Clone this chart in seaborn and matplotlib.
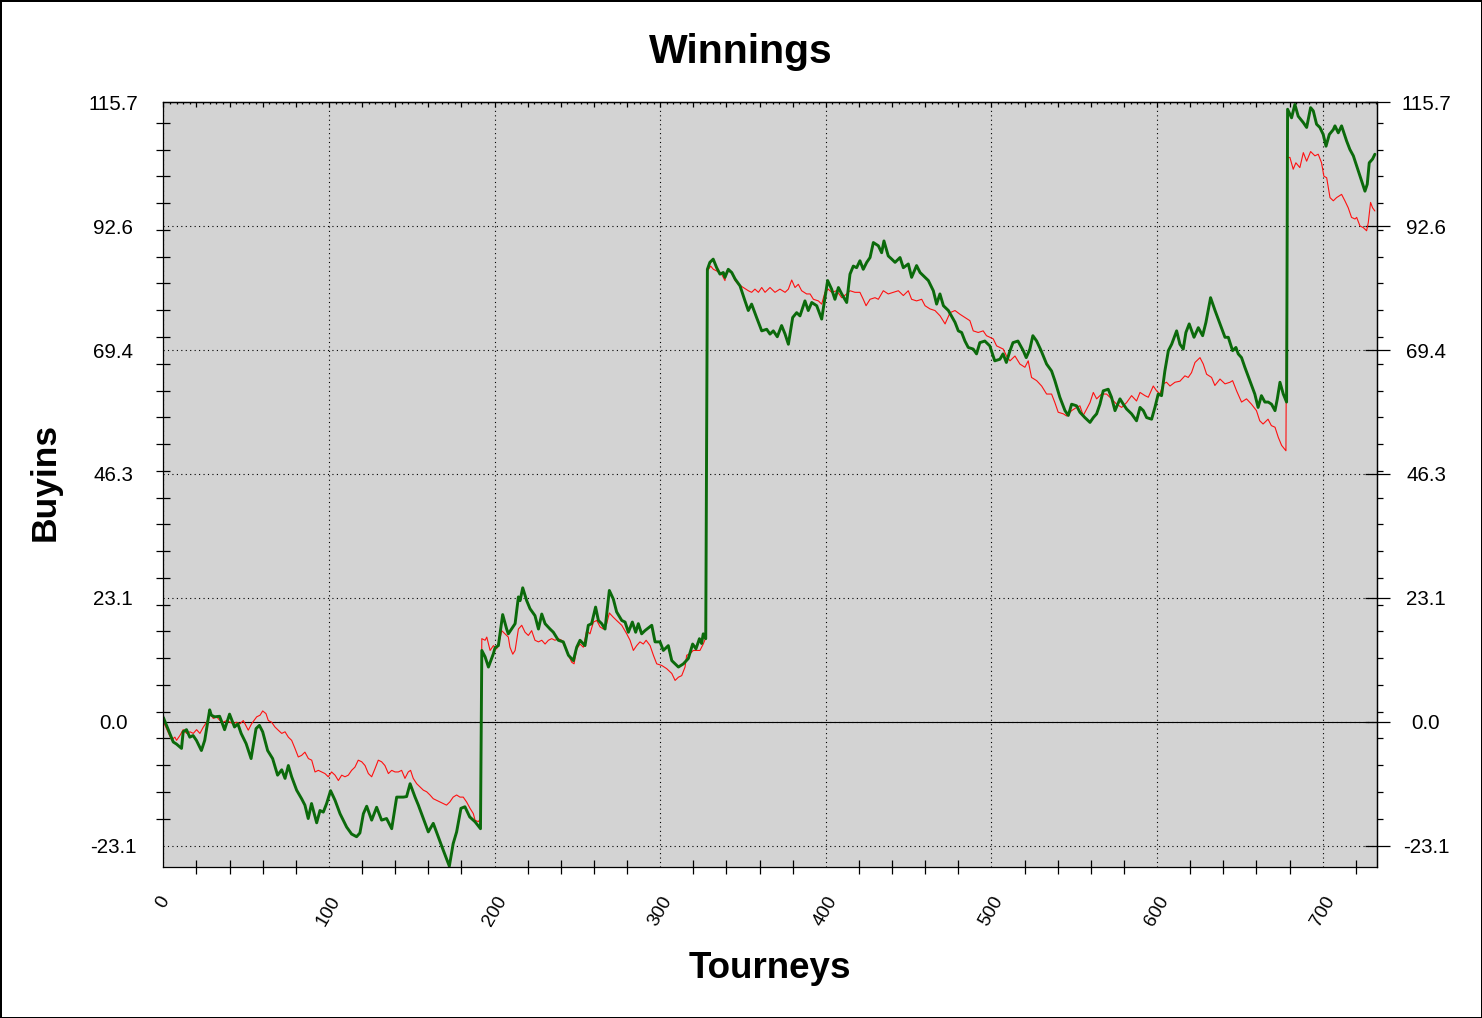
import numpy as np
import pandas as pd
import matplotlib
matplotlib.use("Agg")
import matplotlib.pyplot as plt
from matplotlib.ticker import FixedLocator, MultipleLocator
import seaborn as sns

# --- data (tourney number, buyins) ---
green_x = [0, 6, 8, 11, 12, 14, 16, 18, 20, 23, 25, 26, 28, 29, 31, 34, 35, 37, 40, 43,
           45, 47, 50, 53, 56, 58, 60, 63, 66, 69, 71.5, 73.5, 75.5, 77.5, 80.5, 83.5, 85.5, 87.5, 89.5, 92.6,
           94.6, 96.6, 98.6, 101, 103.7, 106.7, 110.7, 113.7, 116.7, 118.7, 120.8, 122.8, 125.8, 128.8, 131.8, 134.8, 137.9, 140.9, 144.9, 146.9,
           149, 152, 154, 157, 160, 163, 166, 169, 172.7, 175, 177.1, 179.7, 182.1, 185, 188.2, 191.5,
           192.3, 194.3, 196.3, 199.3, 200.3, 202.3, 204.9, 207.3, 208.3, 212.4, 214.4, 215.4, 217, 219.4, 221.4, 224.4, 226.5, 228.5, 230.5, 233.5,
           235.5, 238.5, 241.5, 244.6, 247.6, 249.6, 251.6, 254.6, 256.6, 258.6, 261, 262.7, 264.7, 266.7, 269.3, 271.7, 273.7, 276.8, 278.8, 280.8,
           283.2, 285.2, 286.8, 288.8, 290.8, 294.9, 296.9, 299.9, 301.9, 304.9, 307, 309, 311, 314, 317, 319.6, 321.6, 323.7, 325, 326, 327.5,
           328.5, 330, 332, 334.1, 336.1, 338.1, 339.1, 341.1, 343.2, 345.2, 348.2, 351.2, 353.2, 355.2, 358.2, 361.3, 364.3, 366.3, 368.3, 370.7,
           373.3, 375.4, 377.4, 380, 382.4, 384.4, 387.4, 389.4, 391.5, 394.5, 397.5, 399.5, 401.1, 403.5, 405.5, 407.6, 409.6, 412.6, 414.6, 416.6,
           418.6, 420.6, 422.6, 424.7, 426.7, 428.7, 431.7, 433.7, 435.1, 437.7, 439.8, 441.8, 444.8, 446.8, 449.8, 451.8, 454.8, 456.9, 458.9, 461.9,
           464.9, 466.9, 468.9, 471, 474, 478, 480, 482, 484, 486, 489, 491, 493, 496, 499, 502, 505.1, 507, 509, 511.2,
           513, 516, 519.2, 521, 523.2, 525, 527.3, 530, 533.3, 536.3, 538.3, 541.3, 544.4, 546.4, 548.4, 551.4, 553.4, 556.4, 559.5, 561.5,
           563.5, 565.5, 567.5, 570.5, 572.5, 574.6, 577.6, 579.6, 581.6, 584.6, 587.6, 589.7, 591.7, 593.7, 596.7, 598.7, 600.7, 602.7, 604.7, 606.8,
           608.8, 611.8, 613.8, 615.8, 617.4, 619.4, 620.8, 622.3, 624.9, 627.5, 629.5, 632.3, 635, 638, 641, 643, 645.6, 647.6, 649, 651,
           653, 656, 659, 661, 663, 665.1, 667.1, 669.1, 671.2, 672.6, 674.2, 676.2, 678.2,
           678.8, 681.2, 683.2, 685.2, 688.3, 690.3, 692.7, 694.3, 696.3, 698.3, 700.3, 702, 704, 706.4, 707.4, 709.4, 711.4, 714.4, 716.4, 718.5,
           721.5, 723.5, 725.5, 726.9, 728.1, 730.1, 731.5]
green_y = [0.8, -3.8, -4.2, -5.0, -1.9, -1.5, -2.9, -2.6, -3.5, -5.4, -3.5, -1.6, 2.2, 1.2, 0.9, 1.0, 0.2, -1.5, 1.4, -1.0,
           -0.4, -2.2, -4.1, -6.9, -1.3, -0.7, -1.9, -5.4, -6.9, -10.0, -9.0, -10.6, -8.2, -10.3, -12.8, -14.4, -15.6, -18.1, -15.3, -18.9,
           -16.6, -16.9, -15.3, -12.9, -14.7, -17.2, -19.7, -21.0, -21.5, -20.8, -17.2, -15.8, -18.4, -16.0, -18.4, -18.1, -20.0, -14.1, -14.1, -14.0,
           -11.6, -14.1, -15.6, -18.1, -20.6, -19.0, -21.5, -24.0, -27.0, -22.8, -20.6, -16.2, -15.9, -17.8, -18.7, -20.0,
           13.3, 12.1, 10.2, 12.7, 13.8, 14.2, 20.0, 17.3, 16.4, 18.3, 23.3, 22.6, 25.0, 22.6, 21.1, 19.8, 17.3, 20.1, 18.3, 17.3,
           16.7, 15.2, 14.9, 12.4, 11.4, 13.9, 15.2, 14.2, 18.0, 18.3, 21.4, 18.9, 18.3, 17.3, 24.5, 22.9, 20.5, 18.9, 18.6, 16.7,
           18.6, 16.7, 18.3, 16.4, 17.0, 18.0, 14.9, 14.9, 13.3, 14.2, 11.4, 10.8, 10.2, 10.8, 11.8, 14.5, 13.6, 15.5, 14.6, 16.4, 15.5,
           84.5, 85.8, 86.4, 84.8, 83.6, 83.9, 83.0, 84.5, 83.9, 82.7, 81.4, 78.6, 76.8, 78.0, 75.5, 73.0, 73.3, 72.4, 73.0, 71.9,
           74.0, 72.4, 70.5, 75.5, 76.4, 75.8, 78.6, 76.8, 78.3, 77.7, 75.2, 79.2, 82.4, 80.8, 78.9, 81.1, 79.9, 78.3, 83.6, 85.1,
           84.8, 86.1, 84.5, 85.8, 86.7, 89.5, 88.9, 87.6, 89.8, 87.0, 86.4, 85.8, 86.7, 84.8, 85.5, 83.0, 85.2, 83.9, 83.3, 82.4,
           80.5, 78.0, 79.9, 77.7, 76.8, 74.6, 73.0, 72.7, 71.1, 69.9, 69.6, 68.7, 70.8, 71.1, 70.2, 67.4, 67.7, 68.7, 67.1, 69.3,
           70.8, 71.1, 69.3, 68.0, 69.6, 72.1, 71.1, 69.3, 66.8, 65.5, 63.7, 60.6, 58.1, 57.2, 59.3, 59.0, 57.8, 56.8, 55.9, 56.8,
           57.5, 59.3, 61.8, 62.1, 60.6, 58.1, 60.3, 59.3, 58.4, 57.5, 56.2, 58.7, 58.1, 56.8, 56.5, 58.7, 61.2, 60.9, 65.5, 69.3,
           70.5, 73.0, 70.5, 69.6, 72.7, 74.3, 73.1, 71.8, 73.6, 72.1, 74.6, 79.2, 76.8, 74.3, 71.8, 71.8, 69.3, 69.9, 68.7, 68.0,
           66.2, 63.7, 61.2, 58.7, 60.9, 59.7, 59.7, 59.3, 58.1, 60.3, 63.4, 61.2, 59.7,
           114.4, 112.8, 115.3, 113.1, 111.9, 111.0, 114.7, 114.1, 111.6, 111.0, 109.7, 107.5, 109.7, 110.6, 111.3, 110.0, 111.3, 108.5, 106.9, 105.7,
           102.9, 101.0, 99.1, 100.4, 104.4, 105.1, 106.0]

red_x = [0, 5, 7, 8, 10, 12, 14.1, 16.1, 18.1, 20.1, 22.1, 24.2, 26.2, 28.2, 30.2, 32.2, 34.2, 36.2, 38.2, 40.3,
         42.3, 44.3, 46.3, 48.3, 49.3, 51.3, 53.3, 56.4, 58.4, 60, 62, 63.4, 65.4, 67.4, 69.4, 71.5, 73.5, 75.5, 77.5, 79.5,
         81.5, 83.5, 85.5, 87.6, 89.6, 91.6, 93.6, 95.6, 97.6, 99.6, 101.6, 103.7, 105.7, 107.7, 109.7, 111.7, 113.7, 115.7, 117.7, 119.8,
         121.8, 123.8, 125.8, 127.8, 129.8, 131.8, 133.8, 135.9, 137.9, 139.9, 141.9, 143.9, 145.9, 147.9, 149.3, 150.9, 153, 155, 157, 159,
         161, 163, 165, 167, 169, 171, 173, 175, 177.1, 179.1, 181.1, 183.1, 185.2, 187.2, 188.2, 190.2, 191.5,
         192.3, 194.3, 195.3, 197.3, 199.3, 201.3, 203.3, 204.3, 206.3, 208.3, 209.3, 211, 212.4, 214.4, 216.4, 218.4, 220.4, 222.4, 224.4, 226.5,
         228.5, 230.5, 232.5, 234.5, 236.5, 238.5, 240.5, 242.6, 244.6, 246.6, 248, 249.6, 251.6, 253.6, 255.6, 257.6, 259.7, 261.7, 263.7, 265.7,
         267.7, 269.3, 271.7, 273.7, 276.8, 279.8, 281.8, 283.8, 285.8, 287.8, 289.8, 291.5, 293.9, 295.9, 297.9, 300.9, 303.9, 307, 309, 311,
         313, 315, 316, 318, 320, 322, 324, 326, 327.3,
         328.5, 330.5, 332.1, 334.1, 337.1, 339.1, 340.1, 343.2, 345.2, 347.2, 350.2, 353.2, 355.2, 357.2, 359.3, 361.3, 363.3, 366.3, 369.3, 372.3,
         375.4, 377.4, 379.4, 381.4, 383.4, 385.4, 388.4, 390.5, 392.5, 395.5, 397.5, 399.5, 401.5, 403.5, 406.5, 409.6, 412.6, 414.6, 417.6, 420.6,
         422.6, 424.3, 426.7, 429.7, 431.7, 434.7, 437.7, 440.8, 443.8, 446.8, 449.8, 451.8, 454.8, 457.9, 459.9, 462.9, 465.9, 469, 472, 475,
         478, 481, 484, 487, 489, 492, 495, 497, 499, 501.1, 503.1, 505.1, 507.1, 509.1, 511.2, 514.2, 517.2, 520.2, 522.2, 524.2,
         527.3, 530.3, 533.3, 536.3, 538.3, 540.3, 543.4, 545.4, 548.4, 551.4, 553.4, 555.4, 557.5, 559.5, 561.5, 563.5, 566.5, 569.5, 572.5, 575.6,
         578.6, 581.6, 584.6, 587.6, 589.7, 592.7, 594.7, 597.7, 599.7, 601.7, 603.7, 605.7, 607.8, 610.8, 613.8, 616.8, 618.8, 620.8, 622.9, 625.9,
         627.9, 629.9, 632.9, 634.9, 638, 641, 644, 645.6, 648, 651, 654, 657, 660, 662, 664, 667, 669, 671.2, 673.2, 675.2, 677.8,
         678.6, 680.2, 682.2, 683.8, 686.2, 688.3, 690.3, 692.7, 695.3, 697.3, 699.3, 700.7, 702.4, 704.4, 706.4, 708.4, 711.4, 713.4, 715.4, 717.4,
         719.5, 720.5, 722.5, 724.5, 726.5, 727.5, 728.9, 730.1, 731.5]
red_y = [0.0, -3.4, -2.9, -3.5, -2.6, -1.5, -2.2, -1.9, -2.2, -1.5, -2.2, -1.0, -0.1, 1.5, 0.6, 0.9, 0.2, -0.1, 0.2, -0.1,
         -0.4, -0.1, -0.4, 0.2, -0.4, -1.6, -0.4, 0.9, 1.2, 2.0, 1.5, 0.2, -0.1, -1.0, -1.6, -2.2, -1.9, -2.9, -3.5, -5.0,
         -6.6, -6.3, -5.7, -6.9, -7.2, -9.4, -9.1, -9.4, -9.7, -10.3, -9.4, -10.0, -11.0, -10.0, -10.3, -10.0, -9.1, -8.5, -7.2, -7.5,
         -8.2, -9.7, -10.3, -8.8, -7.2, -7.5, -8.2, -9.7, -9.1, -9.4, -9.4, -9.1, -10.6, -9.4, -9.1, -10.6, -11.6, -12.2, -12.8, -13.1,
         -13.7, -14.4, -14.7, -15.0, -15.3, -15.6, -15.0, -14.1, -13.7, -14.1, -14.1, -15.0, -16.2, -17.2, -18.4, -18.7, -18.1,
         15.5, 15.2, 15.8, 13.3, 14.2, 13.6, 15.5, 17.0, 16.4, 15.8, 13.9, 12.6, 13.3, 17.3, 18.0, 16.7, 16.1, 17.0, 15.2, 14.9,
         15.2, 14.5, 15.2, 15.5, 15.2, 15.5, 15.2, 13.9, 12.4, 11.1, 10.8, 13.6, 14.5, 13.9, 17.0, 16.4, 18.6, 18.9, 17.7, 17.3,
         18.3, 20.3, 19.5, 18.9, 18.0, 16.4, 15.2, 13.3, 14.2, 14.9, 14.5, 15.2, 14.2, 12.4, 10.8, 10.5, 9.9, 9.0, 7.7, 8.3,
         8.6, 10.2, 12.4, 12.7, 13.3, 13.3, 13.3, 14.5, 15.5,
         84.2, 85.1, 84.5, 84.2, 83.6, 82.4, 84.2, 83.9, 82.4, 81.7, 81.1, 80.5, 80.2, 80.8, 80.2, 81.1, 80.2, 81.1, 80.2, 80.8,
         80.2, 80.8, 82.5, 81.1, 81.7, 80.5, 79.9, 79.9, 78.9, 78.6, 78.0, 80.2, 80.8, 80.2, 80.5, 79.2, 79.9, 80.5, 80.2, 80.2,
         78.9, 77.7, 78.9, 79.2, 78.9, 80.5, 79.9, 80.2, 80.5, 79.6, 80.5, 78.9, 78.6, 78.9, 77.7, 77.1, 76.8, 75.8, 74.3, 76.4,
         76.8, 76.1, 75.5, 74.9, 73.0, 72.7, 73.0, 72.1, 71.8, 71.5, 70.2, 69.9, 69.6, 68.3, 67.4, 68.3, 66.8, 66.2, 67.4, 64.3,
         63.7, 62.7, 61.2, 61.2, 59.6, 57.8, 57.5, 57.1, 58.1, 58.7, 59.0, 57.2, 58.4, 59.6, 61.5, 60.3, 61.2, 61.2, 60.3, 59.3,
         58.7, 59.6, 60.9, 59.9, 61.5, 60.9, 60.6, 62.7, 61.8, 61.2, 63.1, 63.4, 62.7, 63.4, 63.6, 64.6, 64.3, 65.2, 67.1, 68.0,
         66.8, 64.9, 64.3, 62.8, 64.0, 63.1, 63.4, 63.7, 61.8, 59.7, 60.3, 59.3, 58.1, 56.2, 55.6, 56.5, 55.3, 55.0, 53.1, 51.6, 50.6,
         105.4, 105.4, 103.2, 104.4, 103.5, 106.3, 104.7, 106.5, 105.7, 106.0, 104.4, 101.9, 101.6, 97.9, 97.3, 97.9, 98.5, 97.3, 96.0, 94.2,
         93.9, 94.2, 92.6, 92.3, 91.7, 93.2, 97.0, 96.0, 95.4]

y_ticks = [-23.14, 0.0, 23.14, 46.28, 69.42, 92.56, 115.7]
y_tick_labels = ["-23.1", "0.0", "23.1", "46.3", "69.4", "92.6", "115.7"]
x_ticks = [0, 100, 200, 300, 400, 500, 600, 700]
x_tick_labels = ["0", "100", "200", "300", "400", "500", "600", "700"]

df = pd.concat([
    pd.DataFrame({"tourney": red_x, "buyins": red_y, "series": "red"}),
    pd.DataFrame({"tourney": green_x, "buyins": green_y, "series": "green"}),
], ignore_index=True)

sns.set_style("white")
plt.rcParams["font.family"] = ["Liberation Sans", "DejaVu Sans"]
plt.rcParams["text.color"] = "black"
plt.rcParams["axes.labelcolor"] = "black"
plt.rcParams["xtick.color"] = "black"
plt.rcParams["ytick.color"] = "black"

W, H = 1482, 1018
fig = plt.figure(figsize=(W / 100, H / 100), dpi=100, facecolor="white",
                 edgecolor="black", linewidth=2)
left, right, top, bottom = 163.3, 1376.7, 102.3, 866.7
ax = fig.add_axes([left / W, 1 - bottom / H, (right - left) / W, (bottom - top) / H])
ax.set_facecolor("#D3D3D3")

ax.grid(True, which="major", color="black", linestyle=(0, (1, 3)), linewidth=0.8)
ax.axhline(0, color="black", linewidth=0.8, zorder=1.5)

sns.lineplot(data=df, x="tourney", y="buyins", hue="series", size="series",
             hue_order=["red", "green"], palette={"red": "#FF1010", "green": "#0B6A0B"},
             sizes={"red": 0.8, "green": 2.1}, estimator=None, sort=False,
             legend=False, ax=ax)

ax.set_xlim(0, 732.6)
ax.set_ylim(-27.1, 115.7)

for s in ax.spines.values():
    s.set_color("black")
    s.set_linewidth(0.9)

y_minor = [-23.14 + 5 * k for k in range(1, 28)]

ax.set_xticks(x_ticks, x_tick_labels)
ax.xaxis.set_minor_locator(MultipleLocator(20))
ax.set_yticks(y_ticks, y_tick_labels)
ax.yaxis.set_minor_locator(FixedLocator(y_minor))

ax.tick_params(which="major", direction="inout", length=18, width=0.9, color="black",
               top=False, right=False)
ax.tick_params(which="minor", direction="inout", length=9.5, width=0.9, color="black",
               top=False, right=False, left=True, bottom=True)
ax.tick_params(axis="x", which="major", labelsize=13.5, pad=10, labelrotation=60)
ax.tick_params(axis="y", which="major", labelsize=14.8, pad=27)
for lbl in ax.get_yticklabels():
    lbl.set_ha("center")

# right-hand axis with the same ticks
sec = ax.secondary_yaxis("right")
sec.set_ticks(y_ticks, labels=y_tick_labels)
sec.yaxis.set_minor_locator(FixedLocator(y_minor))
sec.tick_params(which="major", direction="inout", length=18, width=0.9, labelsize=14.8,
                pad=26.5, colors="black")
sec.tick_params(which="minor", direction="out", length=4.5, width=0.9, colors="black")
sec.spines["right"].set_linewidth(0.9)
sec.spines["right"].set_color("black")
for lbl in sec.get_yticklabels():
    lbl.set_ha("center")

# small ticks along the top edge
topx = ax.secondary_xaxis("top")
topx.set_ticks(np.arange(0, 733, 20))
topx.xaxis.set_minor_locator(MultipleLocator(4))
topx.tick_params(which="major", direction="in", length=3.6, width=0.9, labeltop=False, colors="black")
topx.tick_params(which="minor", direction="in", length=1.2, width=0.9, colors="black")
topx.spines["top"].set_linewidth(0.9)
topx.spines["top"].set_color("black")

fig.text(0.5, 1 - 63 / H, "Winnings", ha="center", va="baseline",
         fontsize=29.5, fontweight="bold")

ax.set_ylabel("Buyins", fontsize=25.5, fontweight="bold")
ax.yaxis.label.set_va("center")
ax.yaxis.set_label_coords((45 - left) / (right - left), (bottom - 482) / (bottom - top))

ax.set_xlabel("Tourneys", fontsize=26.5, fontweight="bold")
ax.xaxis.label.set_va("center")
ax.xaxis.set_label_coords(0.5, (bottom - 969) / (bottom - top))

fig.savefig("out.png", dpi=100)
